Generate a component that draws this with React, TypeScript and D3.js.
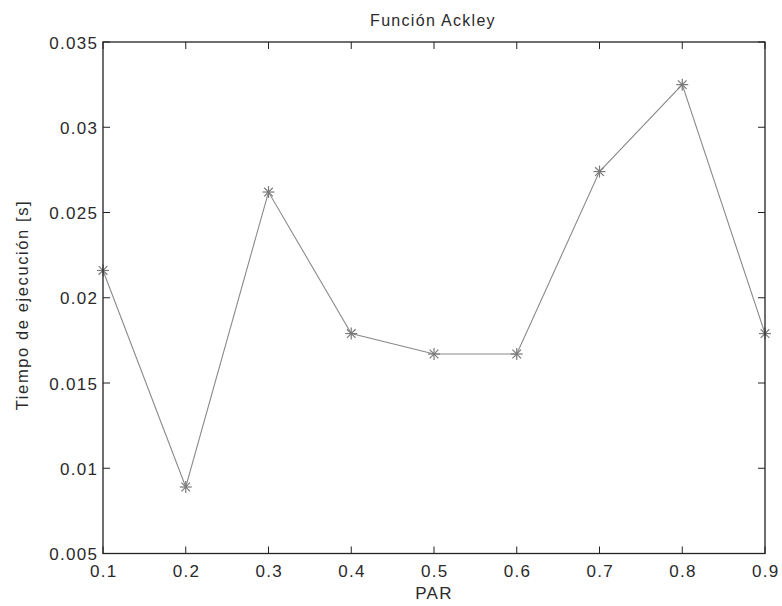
import React from "react";
import * as d3 from "d3";

const parValues = [0.1, 0.2, 0.3, 0.4, 0.5, 0.6, 0.7, 0.8, 0.9];
const execTimes = [0.0216, 0.0089, 0.0262, 0.0179, 0.0167, 0.0167, 0.0274, 0.0325, 0.0179];
const xTicks = [0.1, 0.2, 0.3, 0.4, 0.5, 0.6, 0.7, 0.8, 0.9];
const yTicks = [0.005, 0.01, 0.015, 0.02, 0.025, 0.03, 0.035];
const titleText = "Función Ackley";
const xLabel = "PAR";
const yLabel = "Tiempo de ejecución [s]";

const W = 782, H = 606;
const L = 103, R = 765, T = 42, B = 553.5;
const FONT = "'Liberation Sans', Arial, sans-serif";
const TXT = "#2a2a2a";
const FS = 17;
const LS = 1.3;

export default function App() {
  const x = d3.scaleLinear().domain([0.1, 0.9]).range([L, R]);
  const y = d3.scaleLinear().domain([0.005, 0.035]).range([B, T]);
  const line = d3.line<number>().x((_, i) => x(parValues[i])).y((d) => y(d));
  const fmt = (v: number) => String(+v.toFixed(3));
  const star = (cx: number, cy: number, k: number) => {
    const r = 6;
    const d = r * 0.72;
    return (
      <g key={k} stroke="#7a7a7a" strokeWidth={1.2}>
        <line x1={cx - r} y1={cy} x2={cx + r} y2={cy} />
        <line x1={cx} y1={cy - r} x2={cx} y2={cy + r} />
        <line x1={cx - d} y1={cy - d} x2={cx + d} y2={cy + d} />
        <line x1={cx - d} y1={cy + d} x2={cx + d} y2={cy - d} />
      </g>
    );
  };
  return (
    <svg width={W} height={H} style={{ position: "absolute", left: 0, top: 0 }}>
      <rect width={W} height={H} fill="#fff" />
      <path d={line(execTimes) || ""} fill="none" stroke="#8a8a8a" strokeWidth={1.1} />
      {execTimes.map((v, i) => star(x(parValues[i]), y(v), i))}
      <rect x={L} y={T} width={R - L} height={B - T} fill="none" stroke="#222" strokeWidth={1.3} />
      {xTicks.map((t) => (
        <g key={"x" + t}>
          <line x1={x(t)} x2={x(t)} y1={B} y2={B - 7} stroke="#222" strokeWidth={1} />
          <line x1={x(t)} x2={x(t)} y1={T} y2={T + 7} stroke="#222" strokeWidth={1} />
          <text x={x(t) + LS / 2} y={B + 23.5} textAnchor="middle" fontFamily={FONT} fontSize={FS} fill={TXT} letterSpacing={LS}>
            {fmt(t)}
          </text>
        </g>
      ))}
      {yTicks.map((t) => (
        <g key={"y" + t}>
          <line x1={L} x2={L + 7} y1={y(t)} y2={y(t)} stroke="#222" strokeWidth={1} />
          <line x1={R} x2={R - 7} y1={y(t)} y2={y(t)} stroke="#222" strokeWidth={1} />
          <text x={L - 6 + LS} y={y(t) + 6.5} textAnchor="end" fontFamily={FONT} fontSize={FS} fill={TXT} letterSpacing={LS}>
            {fmt(t)}
          </text>
        </g>
      ))}
      <text x={(L + R) / 2 - 1} y={25.5} textAnchor="middle" fontFamily={FONT} fontSize={FS - 1} fill={TXT} letterSpacing={LS}>
        {titleText}
      </text>
      <text x={(L + R) / 2} y={599} textAnchor="middle" fontFamily={FONT} fontSize={FS} fill={TXT} letterSpacing={LS}>
        {xLabel}
      </text>
      <text transform={`translate(28,305) rotate(-90)`} textAnchor="middle" fontFamily={FONT} fontSize={FS - 0.5} fill={TXT} letterSpacing={1.6}>
        {yLabel}
      </text>
    </svg>
  );
}
